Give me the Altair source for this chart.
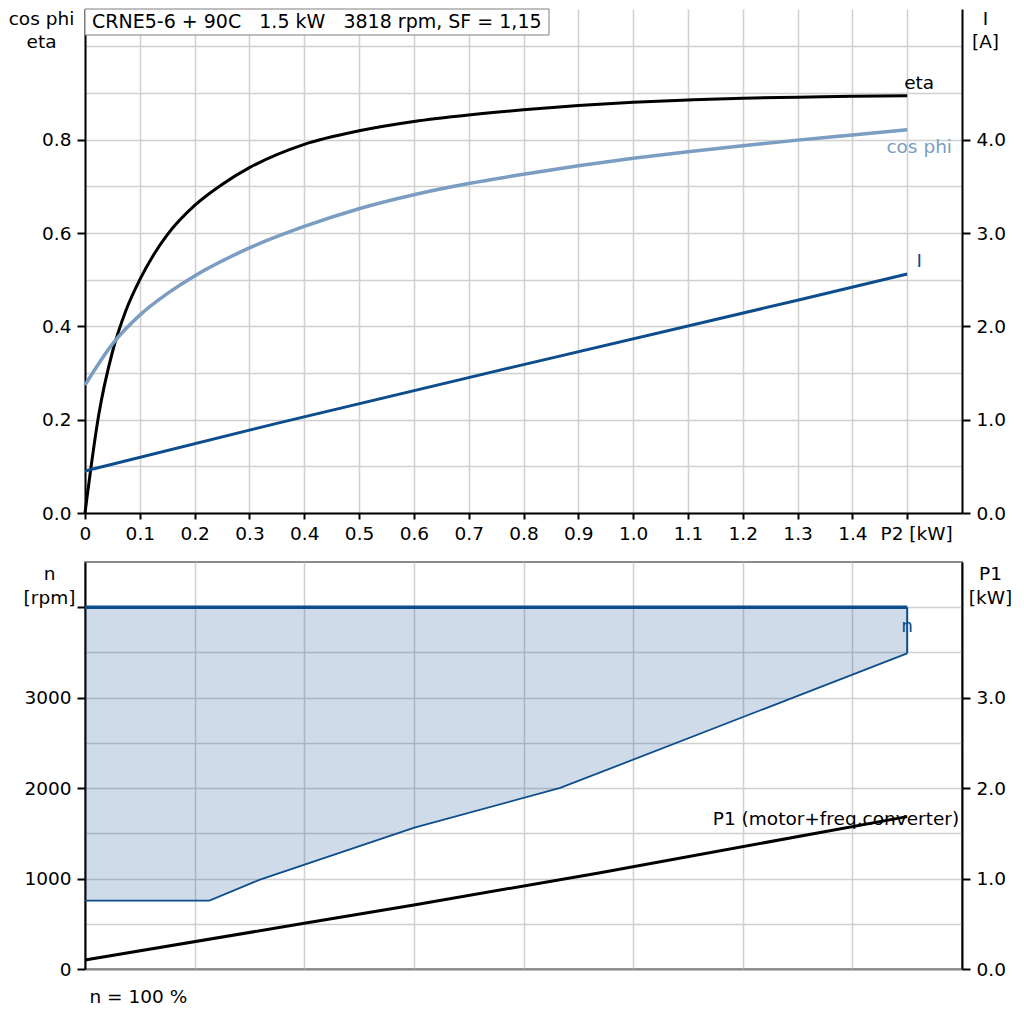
import altair as alt
import pandas as pd

# ---- values ----
TITLE = "CRNE5-6 + 90C\u00a0\u00a0\u00a01.5 kW\u00a0\u00a0\u00a03818 rpm, SF = 1,15"

# upper panel: eta, cos phi (left axis) and I (right axis) against P2 [kW]
P2_ETA = [0, 0.025, 0.05, 0.075, 0.1, 0.125, 0.15, 0.2, 0.25, 0.3,
          0.4, 0.5, 0.6, 0.7, 0.8, 0.9, 1.0, 1.1, 1.2, 1.3, 1.4, 1.5]
ETA = [0, 0.21, 0.345, 0.435, 0.50, 0.553, 0.596, 0.659, 0.704, 0.740,
       0.790, 0.819, 0.839, 0.853, 0.864, 0.873, 0.880, 0.885, 0.889, 0.891, 0.893, 0.894]

P2_COS = [0, 0.05, 0.1, 0.15, 0.2, 0.3, 0.4, 0.5, 0.6, 0.7, 0.8, 0.9, 1.0, 1.1, 1.2, 1.3, 1.4, 1.5]
COS_PHI = [0.274, 0.362, 0.424, 0.470, 0.508, 0.568, 0.614, 0.652, 0.682, 0.706, 0.726,
           0.744, 0.760, 0.774, 0.787, 0.799, 0.810, 0.821]

P2_I = [0, 0.35, 0.8, 1.3, 1.5]
I_AMP = [0.45, 0.96, 1.59, 2.28, 2.56]

# lower panel: speed range n (left axis) and P1 (right axis)
P2_N = [0, 0.227, 0.318, 0.601, 0.867, 1.5]
N_MIN = [756, 756, 985, 1563, 2002, 3490]
P2_NMAX = [0, 1.5]
N_MAX = [4000, 4000]

P2_P1 = [0, 0.4, 0.6, 0.94, 1.5]
P1 = [0.10, 0.505, 0.708, 1.065, 1.685]

# axis ticks / grid
X_TICKS = [0, 0.1, 0.2, 0.3, 0.4, 0.5, 0.6, 0.7, 0.8, 0.9, 1.0, 1.1, 1.2, 1.3, 1.4, 1.5]
X_GRID_BOTTOM = [0, 0.2, 0.4, 0.6, 0.8, 1.0, 1.2, 1.4]
ETA_TICKS = [0, 0.1, 0.2, 0.3, 0.4, 0.5, 0.6, 0.7, 0.8, 0.9, 1.0]
I_TICKS = [0, 1, 2, 3, 4]
N_TICKS = [0, 500, 1000, 1500, 2000, 2500, 3000, 3500, 4000]
P1_TICKS = [0, 1, 2, 3]

# ---- styling ----
FONT = "DejaVu Sans"
FS = 18.5
BLACK = "#000000"
COS_BLUE = "#7a9dc1"
DARK_BLUE = "#0d4d8b"
GRID = "#d0d0d0"
FRAME_GREY = "#8a8a8a"

W = 877
H_TOP = 504
H_BOT = 407

eta_df = pd.DataFrame({"p2": P2_ETA, "v": ETA})
cos_df = pd.DataFrame({"p2": P2_COS, "v": COS_PHI})
i_df = pd.DataFrame({"p2": P2_I, "i": I_AMP})
area_df = pd.DataFrame({"p2": P2_N, "n": N_MIN, "n_top": [N_MAX[0]] * len(P2_N)})
nmax_df = pd.DataFrame({"p2": P2_NMAX, "n": N_MAX})
vert_df = pd.DataFrame({"p2": [P2_N[-1]], "n": [N_MIN[-1]], "n_top": [N_MAX[-1]]})
p1_df = pd.DataFrame({"p2": P2_P1, "p1": P1})
title_df = pd.DataFrame({"t": [TITLE]})

# ---------------- upper panel ----------------
x_top = alt.X(
    "p2:Q",
    scale=alt.Scale(domain=[0, 1.6], nice=False),
    axis=alt.Axis(
        values=X_TICKS, title=None, grid=True, labelFlush=False, labelOverlap=False,
        tickSize=6, labelPadding=5,
        labelExpr="datum.value > 1.45 ? 'P2 [kW]' : (datum.value == 0 ? '0' : format(datum.value, '.1f'))",
        labelOffset={"condition": {"test": "datum.value > 1.45", "value": 9}, "value": 0},
    ),
)

y_eta = alt.Y(
    "v:Q",
    scale=alt.Scale(domain=[0, 1.08], nice=False),
    axis=alt.Axis(
        values=ETA_TICKS, grid=True, tickSize=8, labelPadding=6,
        labelExpr="round(datum.value * 10) % 2 == 0 && datum.value < 0.95 ? format(datum.value, '.1f') : ''",
        tickOpacity={"condition": {"test": "round(datum.value * 10) % 2 == 0 && datum.value < 0.95",
                                   "value": 1}, "value": 0},
        title=["cos phi", "eta"], titleAngle=0, titleAlign="center", titleBaseline="top",
        titleX=-44, titleY=0, titleLineHeight=23,
    ),
)

y_i = alt.Y(
    "i:Q",
    scale=alt.Scale(domain=[0, 5.4], nice=False),
    axis=alt.Axis(
        orient="right", values=I_TICKS, format=".1f", grid=False, tickSize=8, labelPadding=6,
        title=["I", "[A]"], titleAngle=0, titleAlign="center", titleBaseline="top",
        titleX=23, titleY=0, titleLineHeight=23,
    ),
)

eta_line = alt.Chart(eta_df).mark_line(color=BLACK, strokeWidth=3, interpolate="monotone").encode(
    x=x_top, y=y_eta)
cos_line = alt.Chart(cos_df).mark_line(color=COS_BLUE, strokeWidth=3.5, interpolate="monotone").encode(
    x=x_top, y=y_eta)
eta_lbl = alt.Chart(eta_df.tail(1)).mark_text(
    text="eta", dx=12, dy=-13, font=FONT, fontSize=FS, color=BLACK).encode(x=x_top, y=y_eta)
cos_lbl = alt.Chart(cos_df.tail(1)).mark_text(
    text="cos phi", dx=12, dy=17, font=FONT, fontSize=FS, color=COS_BLUE).encode(x=x_top, y=y_eta)

title_box = alt.Chart(title_df).mark_rect(fill="white", stroke="#7f7f7f", strokeWidth=1).encode(
    x=alt.value(0), x2=alt.value(464), y=alt.value(0), y2=alt.value(26))
title_txt = alt.Chart(title_df).mark_text(
    align="left", baseline="alphabetic", font=FONT, fontSize=19, color=BLACK).encode(
    x=alt.value(7), y=alt.value(19), text="t:N")

i_line = alt.Chart(i_df).mark_line(color=DARK_BLUE, strokeWidth=3).encode(x=x_top, y=y_i)
i_lbl = alt.Chart(i_df.tail(1)).mark_text(
    text="I", dx=12, dy=-13, font=FONT, fontSize=FS, color=DARK_BLUE).encode(x=x_top, y=y_i)

top_left = alt.layer(eta_line, cos_line, eta_lbl, cos_lbl, title_box, title_txt)
top_right = alt.layer(i_line, i_lbl)
top = alt.layer(top_left, top_right).resolve_scale(y="independent").properties(
    width=W, height=H_TOP, view=alt.ViewBackground(strokeOpacity=0))

# ---------------- lower panel ----------------
x_bot = alt.X(
    "p2:Q",
    scale=alt.Scale(domain=[0, 1.6], nice=False),
    axis=alt.Axis(
        values=X_GRID_BOTTOM, grid=True, labels=False, ticks=False,
        domainColor=FRAME_GREY, domainWidth=2,
        title="n = 100 %", titleX=4, titleY=27, titleAlign="left", titleBaseline="middle",
    ),
)

y_n = alt.Y(
    "n:Q",
    scale=alt.Scale(domain=[0, 4500], nice=False),
    axis=alt.Axis(
        values=N_TICKS, grid=True, tickSize=8, labelPadding=6,
        labelExpr="datum.value % 1000 == 0 && datum.value < 3500 ? format(datum.value, 'd') : ''",
        tickOpacity={"condition": {"test": "datum.value % 1000 == 0", "value": 1}, "value": 0},
        title=["n", "[rpm]"], titleAngle=0, titleAlign="center", titleBaseline="top",
        titleX=-36, titleY=2, titleLineHeight=24,
    ),
)

y_p1 = alt.Y(
    "p1:Q",
    scale=alt.Scale(domain=[0, 4.5], nice=False),
    axis=alt.Axis(
        orient="right", values=P1_TICKS, format=".1f", grid=False, tickSize=8, labelPadding=6,
        title=["P1", "[kW]"], titleAngle=0, titleAlign="center", titleBaseline="top",
        titleX=28, titleY=2, titleLineHeight=24,
    ),
)

n_area = alt.Chart(area_df).mark_area(color=DARK_BLUE, opacity=0.2).encode(
    x=x_bot, y=y_n, y2="n_top:Q")
n_min_line = alt.Chart(area_df).mark_line(color=DARK_BLUE, strokeWidth=1.8).encode(x=x_bot, y=y_n)
n_max_line = alt.Chart(nmax_df).mark_line(color=DARK_BLUE, strokeWidth=3.5).encode(x=x_bot, y=y_n)
n_end = alt.Chart(vert_df).mark_rule(color=DARK_BLUE, strokeWidth=2).encode(
    x=x_bot, y=y_n, y2="n_top:Q")
n_lbl = alt.Chart(nmax_df.tail(1)).mark_text(
    text="n", dy=19, font=FONT, fontSize=FS, color=DARK_BLUE).encode(x=x_bot, y=y_n)

p1_line = alt.Chart(p1_df).mark_line(color=BLACK, strokeWidth=3).encode(x=x_bot, y=y_p1)
p1_lbl = alt.Chart(p1_df.tail(1)).mark_text(
    text="P1 (motor+freq.converter)", align="right", dx=52, dy=2, font=FONT, fontSize=FS,
    color=BLACK).encode(x=x_bot, y=y_p1)

bot_left = alt.layer(n_area, n_min_line, n_max_line, n_end, n_lbl)
bot_right = alt.layer(p1_line, p1_lbl)
bottom = alt.layer(bot_left, bot_right).resolve_scale(y="independent").properties(
    width=W, height=H_BOT, view=alt.ViewBackground(stroke=FRAME_GREY, strokeWidth=2))

chart = alt.vconcat(top, bottom, spacing=18).resolve_scale(x="independent", y="independent").properties(
    padding=0
).configure_axis(
    labelFont=FONT, labelFontSize=FS, labelColor=BLACK,
    titleFont=FONT, titleFontSize=FS, titleColor=BLACK, titleFontWeight="normal",
    domainColor=BLACK, domainWidth=2, tickColor=BLACK, tickWidth=2,
    gridColor=GRID, gridWidth=1.5,
).configure_text(font=FONT).configure_view(strokeWidth=0)

chart.save("out.html", embed_options={"renderer": "svg", "actions": False})
